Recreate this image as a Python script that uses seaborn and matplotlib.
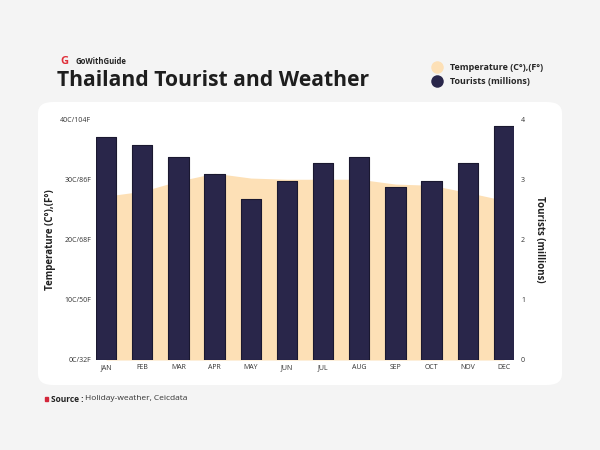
import numpy as np
import pandas as pd
import seaborn as sns
import matplotlib.pyplot as plt
from matplotlib.patches import FancyBboxPatch, Rectangle
from matplotlib.lines import Line2D

months = ["JAN", "FEB", "MAR", "APR", "MAY", "JUN", "JUL", "AUG", "SEP", "OCT", "NOV", "DEC"]
tourists = [3.70, 3.57, 3.37, 3.08, 2.68, 2.97, 3.27, 3.37, 2.87, 2.97, 3.27, 3.88]
temp_c = [27.2, 28.0, 29.7, 31.0, 30.2, 30.0, 30.0, 30.0, 29.2, 29.0, 27.8, 26.5]
temp_ticks = [0, 10, 20, 30, 40]
temp_labels = ["0C/32F", "10C/50F", "20C/68F", "30C/86F", "40C/104F"]

navy = "#29264a"
peach = "#fde0b6"
bg = "#f4f4f4"

sns.set_theme(style="white")
plt.rcParams['font.family'] = ['Open Sans', 'DejaVu Sans']

df = pd.DataFrame({"month": months, "tourists": tourists, "temp": temp_c})

fig = plt.figure(figsize=(6, 4.5), dpi=100)
fig.patch.set_facecolor(bg)

# white rounded panel behind the chart
panel = FancyBboxPatch((38 / 600, 1 - 385 / 450), 524 / 600, 283 / 450,
                       boxstyle="round,pad=0,rounding_size=0.025",
                       transform=fig.transFigure, facecolor="white",
                       edgecolor="none", zorder=-5)
fig.patches.append(panel)

ax = fig.add_axes([96 / 600, 1 - 360 / 450, 418 / 600, 241 / 450])
ax.set_facecolor("none")
x = np.arange(len(months))
ax.fill_between(x, df["temp"], color=peach, linewidth=0)
ax.set_ylim(0, 40)
ax.set_xlim(-0.28, 11.28)
ax.set_yticks(temp_ticks)
ax.set_yticklabels(temp_labels)
ax.set_ylabel("Temperature (C°),(F°)", fontsize=7, fontweight="bold", color="#222222", labelpad=3)

ax2 = ax.twinx()
sns.barplot(data=df, x="month", y="tourists", color=navy, width=0.56,
            edgecolor="#1a1830", linewidth=0.8, saturation=1, ax=ax2)
for p in ax2.patches:
    p.set_joinstyle("round")
ax2.set_ylim(0, 4)
ax2.set_xlim(-0.28, 11.28)
ax2.set_yticks([0, 1, 2, 3, 4])
ax2.set_xlabel("")
ax2.set_ylabel("Tourists (millions)", fontsize=7, fontweight="bold", color="#222222",
               rotation=270, labelpad=14)

for a in (ax, ax2):
    for s in a.spines.values():
        s.set_visible(False)
    a.tick_params(length=0, labelsize=5, colors="#333333")
ax.tick_params(axis="x", pad=3)
ax2.tick_params(axis="y", pad=5)
ax.set_xticks(x)
ax.set_xticklabels(months)

# header
fig.text(57 / 600, 1 - 80 / 450, "Thailand Tourist and Weather", fontsize=15.2,
         fontweight="bold", color="#1e1e1e", va="center")
fig.text(64 / 600, 1 - 61 / 450, "G", fontsize=8, fontweight="bold", color="#e0303a",
         va="center", ha="center")
fig.text(76 / 600, 1 - 61 / 450, "GoWithGuide", fontsize=5.5, fontweight="bold",
         color="#222222", va="center")

handles = [Line2D([], [], marker="o", linestyle="none", markersize=9,
                  markerfacecolor=peach, markeredgecolor="none"),
           Line2D([], [], marker="o", linestyle="none", markersize=9,
                  markerfacecolor=navy, markeredgecolor="none")]
fig.legend(handles, ["Temperature (C°),(F°)", "Tourists (millions)"],
           loc="upper left", bbox_to_anchor=(423 / 600, 1 - 55 / 450), frameon=False,
           prop={"size": 6.5, "weight": "bold"}, handletextpad=0.9, labelspacing=0.55,
           handlelength=1.2)

# source
fig.patches.append(Rectangle((45 / 600, 1 - 401 / 450), 3 / 600, 4 / 450,
                             transform=fig.transFigure, color="#d3263a"))
fig.text(51 / 600, 1 - 399 / 450, "Source :", fontsize=6, fontweight="bold",
         color="#222222", va="center")
fig.text(85 / 600, 1 - 399 / 450, "Holiday-weather, Ceicdata", fontsize=6,
         color="#333333", va="center")

fig.savefig("out.png", dpi=100, facecolor=bg)
